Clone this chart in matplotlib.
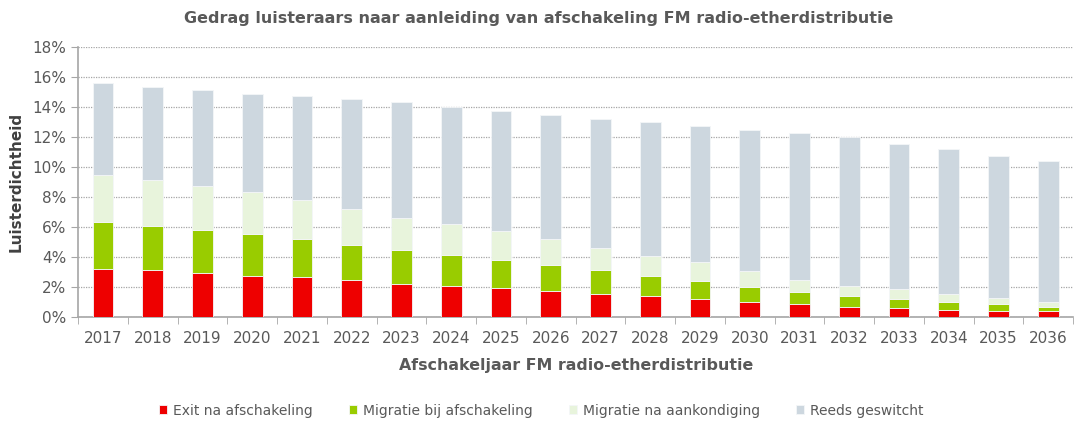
import numpy as np
import matplotlib
matplotlib.use("Agg")
import matplotlib.pyplot as plt
from matplotlib.ticker import PercentFormatter

jaren = [str(j) for j in range(2017, 2037)]

# toppen van de gestapelde delen (in %)
totaal = [15.6, 15.33, 15.16, 14.89, 14.71, 14.53, 14.36, 14.0, 13.73, 13.45,
          13.18, 13.0, 12.71, 12.45, 12.29, 12.0, 11.56, 11.2, 10.76, 10.38]
top_aankondiging = [9.49, 9.11, 8.76, 8.31, 7.78, 7.22, 6.62, 6.18, 5.71, 5.18,
                    4.62, 4.07, 3.65, 3.09, 2.47, 2.09, 1.85, 1.56, 1.29, 1.02]
top_migratie = [6.33, 6.07, 5.8, 5.53, 5.18, 4.8, 4.45, 4.11, 3.82, 3.47,
                3.11, 2.76, 2.4, 2.02, 1.67, 1.4, 1.22, 1.02, 0.85, 0.67]
exit_afschakeling = [3.18, 3.11, 2.91, 2.73, 2.65, 2.47, 2.2, 2.09, 1.93, 1.73,
                     1.56, 1.4, 1.2, 1.0, 0.85, 0.67, 0.58, 0.47, 0.38, 0.38]

exit_v = np.array(exit_afschakeling)
migratie_bij = np.array(top_migratie) - exit_v
migratie_na = np.array(top_aankondiging) - np.array(top_migratie)
reeds = np.array(totaal) - np.array(top_aankondiging)

reeksen = [
    ("Exit na afschakeling", exit_v, "#ee0000"),
    ("Migratie bij afschakeling", migratie_bij, "#99cc00"),
    ("Migratie na aankondiging", migratie_na, "#e8f4dc"),
    ("Reeds geswitcht", reeds, "#cdd7df"),
]

grijs = "#595959"
fig = plt.figure(figsize=(10.78, 4.21), dpi=100)
ax = fig.add_axes([0.0725, 0.247, 0.923, 0.641])

x = np.arange(len(jaren))
onder = np.zeros(len(jaren))
for naam, waarden, kleur in reeksen:
    ax.bar(x, waarden, bottom=onder, width=0.42, color=kleur, label=naam,
           edgecolor="#f4f6f8", linewidth=0.6, zorder=3)
    onder = onder + waarden

ax.set_xlim(-0.5, len(jaren) - 0.5)
ax.set_ylim(0, 18)
ax.set_yticks(np.arange(0, 19, 2))
ax.yaxis.set_major_formatter(PercentFormatter(decimals=0))
ax.grid(axis="y", color="#a6a6a6", linestyle=(0, (1, 1)), linewidth=0.9, zorder=0)

ax.set_xticks(x)
ax.set_xticklabels(jaren)
ax.set_xticks(np.arange(-0.5, len(jaren)), minor=True)
ax.tick_params(axis="x", which="major", length=0, pad=10, labelsize=11, labelcolor=grijs)
ax.tick_params(axis="x", which="minor", length=5, color="#a6a6a6")
ax.tick_params(axis="y", length=5, color="#a6a6a6", labelsize=11, labelcolor=grijs)

for kant in ["top", "right"]:
    ax.spines[kant].set_visible(False)
for kant in ["left", "bottom"]:
    ax.spines[kant].set_color("#a6a6a6")
    ax.spines[kant].set_linewidth(1.2)

ax.set_ylabel("Luisterdichtheid", fontsize=11, fontweight="bold", color="#404040", labelpad=6)
ax.set_xlabel("Afschakeljaar FM radio-etherdistributie", fontsize=11.4, fontweight="bold",
              color=grijs, labelpad=9)
fig.suptitle("Gedrag luisteraars naar aanleiding van afschakeling FM radio-etherdistributie",
             fontsize=11.5, fontweight="bold", color=grijs, x=0.5, y=0.975)

fig.legend(loc="lower center", bbox_to_anchor=(0.502, -0.022), ncol=4, frameon=False,
           fontsize=10, labelcolor=grijs, handlelength=0.6, handleheight=0.6,
           handletextpad=0.4, columnspacing=2.6)

fig.savefig("out.png", dpi=100)
